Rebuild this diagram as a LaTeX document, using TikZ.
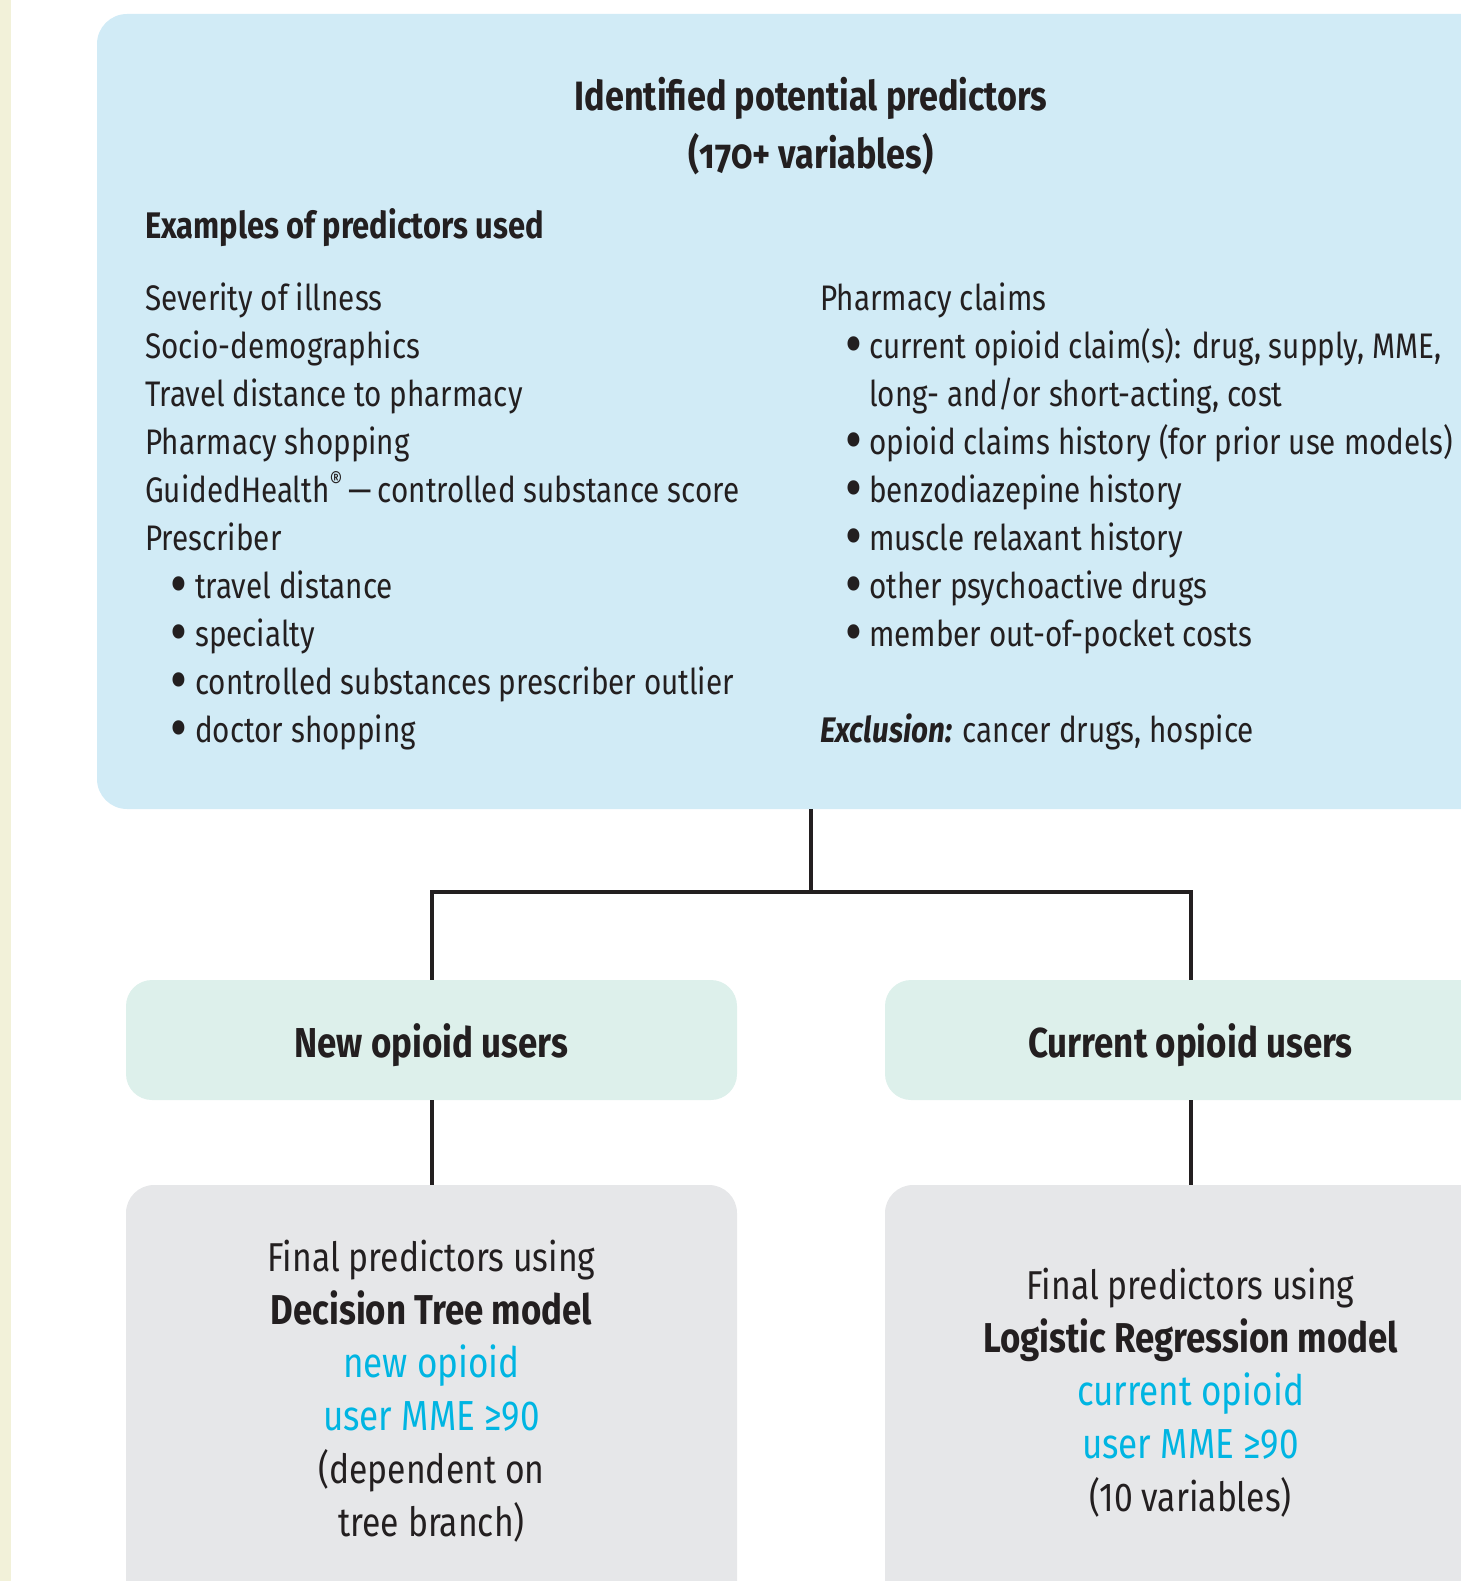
\documentclass[tikz,border=0pt]{standalone}
\usepackage{fontspec}
\setmainfont{Fira Sans}[FakeStretch=0.835]
\definecolor{cream}{HTML}{F2F1D9}
\definecolor{topblue}{HTML}{D1EBF6}
\definecolor{mint}{HTML}{DDF0EB}
\definecolor{boxgray}{HTML}{E6E7E9}
\definecolor{dark}{HTML}{231F20}
\definecolor{accent}{HTML}{00B5E2}
\newcommand{\bodyfont}{\fontsize{35.5}{44}\selectfont}
\newcommand{\lowfont}{\fontsize{40.3}{50}\selectfont}
\newcommand{\lowbold}{\fontsize{41.7}{50}\selectfont\bfseries}
\newcommand{\bul}{\raisebox{-3pt}{\scalebox{1.45}{\textbf{•}}}}
\begin{document}
\begin{tikzpicture}[x=1pt,y=-1pt,
  panel/.style={inner sep=0pt, draw=none},
  conn/.style={draw=dark, line width=4pt, line join=miter},
  lt/.style={anchor=base west, inner sep=0pt, text=dark, font=\bodyfont},
  bt/.style={anchor=base, inner sep=0pt, text=dark, font=\bodyfont},
  ct/.style={anchor=base, inner sep=0pt, text=dark, font=\lowfont},
  cyant/.style={ct, text=accent, font=\fontsize{42}{50}\selectfont},
  ttl/.style={anchor=base, inner sep=0pt, text=dark, font=\fontsize{41}{46}\selectfont\bfseries},
  midt/.style={anchor=base, inner sep=0pt, text=dark, font=\fontsize{41.8}{50}\selectfont\bfseries}]
\useasboundingbox (0,0) rectangle (1460,1581);
\fill[cream] (0,0) rectangle (11,1581);
% boxes
\node[panel, fill=topblue, minimum width=1420, minimum height=795, rounded corners=30] (top) at (807,411.5) {};
\node[panel, fill=mint, minimum width=611, minimum height=120, rounded corners=26] (newb) at (431.5,1040) {};
\node[panel, fill=mint, minimum width=611, minimum height=120, rounded corners=26] (curb) at (1190.5,1040) {};
\node[panel, fill=boxgray, minimum width=611, minimum height=465, rounded corners=28] (dtb) at (431.5,1417.5) {};
\node[panel, fill=boxgray, minimum width=611, minimum height=465, rounded corners=28] (lrb) at (1190.5,1417.5) {};
% connectors
\coordinate (j) at (811,892);
\draw[conn] (top.south -| j) -- (j);
\draw[conn] (newb.north) |- (j) -| (curb.north);
\draw[conn] (newb.south) -- (dtb.north);
\draw[conn] (curb.south) -- (lrb.north);
% top text
\node[ttl] (t1) at (811,110.5) {Identified potential predictors};
\node[ttl] (t2) at (811,168) {(\addfontfeatures{Numbers=OldStyle}170+ variables)};
\node[lt, font=\fontsize{37}{44}\selectfont\bfseries] (ex) at (145,238) {Examples of predictors used};
% left column
\node[lt] (l1) at (145,310.5) {Severity of illness};
\node[lt] (l2) at (145,358.5) {Socio-demographics};
\node[lt] (l3) at (145,406.5) {Travel distance to pharmacy};
\node[lt] (l4) at (145,454.5) {Pharmacy shopping};
\node[lt] (l5) at (145,502.5) {GuidedHealth\raisebox{0.38em}{\fontsize{24}{24}\selectfont ®}\,—\,controlled substance score};
\node[lt] (l6) at (145,550.5) {Prescriber};
\node[bt] (b1) at (179,598.5) {\bul};
\node[lt] (l7) at (195,598.5) {travel distance};
\node[bt] (b2) at (179,646.5) {\bul};
\node[lt] (l8) at (195,646.5) {specialty};
\node[bt] (b3) at (179,694.5) {\bul};
\node[lt] (l9) at (195,694.5) {controlled substances prescriber outlier};
\node[bt] (b4) at (179,742.5) {\bul};
\node[lt] (l10) at (195,742.5) {doctor shopping};
% right column
\node[lt] (r1) at (820,310.5) {Pharmacy claims};
\node[bt] (rb1) at (854,358.5) {\bul};
\node[lt] (r2) at (869,358.5) {current opioid claim(s): drug, supply, MME,};
\node[lt] (r3) at (869,406.5) {long- and/or short-acting, cost};
\node[bt] (rb2) at (854,454.5) {\bul};
\node[lt] (r4) at (869,454.5) {opioid claims history (for prior use models)};
\node[bt] (rb3) at (854,502.5) {\bul};
\node[lt] (r5) at (869,502.5) {benzodiazepine history};
\node[bt] (rb4) at (854,550.5) {\bul};
\node[lt] (r6) at (869,550.5) {muscle relaxant history};
\node[bt] (rb5) at (854,598.5) {\bul};
\node[lt] (r7) at (869,598.5) {other psychoactive drugs};
\node[bt] (rb6) at (854,646.5) {\bul};
\node[lt] (r8) at (869,646.5) {member out-of-pocket costs};
\node[lt] (r9) at (820,742.5) {\textbf{\textit{Exclusion:}} cancer drugs, hospice};
% middle text
\node[midt] (m1) at (431.5,1057) {New opioid users};
\node[midt] (m2) at (1190.5,1057) {Current opioid users};
% bottom left text
\node[ct] (d1) at (431.5,1271.5) {Final predictors using};
\node[ct, font=\lowbold] (d2) at (431.5,1324) {Decision Tree model};
\node[cyant] (d3) at (431.5,1377) {new opioid};
\node[cyant] (d4) at (431.5,1430) {user MME ≥90};
\node[ct] (d5) at (431.5,1483) {(dependent on};
\node[ct] (d6) at (431.5,1536) {tree branch)};
% bottom right text
\node[ct] (g1) at (1190.5,1299.5) {Final predictors using};
\node[ct, font=\lowbold] (g2) at (1190.5,1352) {Logistic Regression model};
\node[cyant] (g3) at (1190.5,1405) {current opioid};
\node[cyant] (g4) at (1190.5,1458) {user MME ≥90};
\node[ct] (g5) at (1190.5,1511) {(10 variables)};
\end{tikzpicture}
\end{document}
